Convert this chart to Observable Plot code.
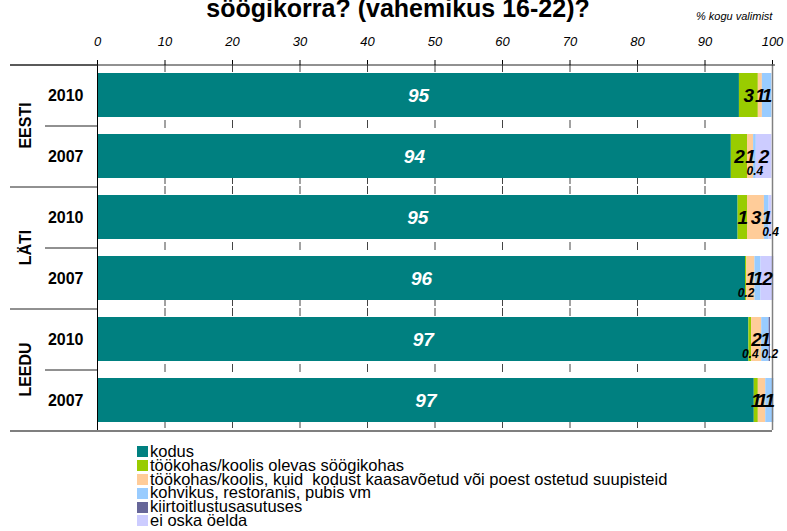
<!DOCTYPE html>
<html>
<head>
<meta charset="utf-8">
<script src="https://cdn.jsdelivr.net/npm/d3@7"></script>
<script src="https://cdn.jsdelivr.net/npm/@observablehq/plot@0.6"></script>
<style>
  html, body { margin: 0; padding: 0; background: #fff; }
  #wrap { position: relative; width: 787px; height: 531px; overflow: hidden; font-family: "Liberation Sans", Arial, sans-serif; }
  #title { position: absolute; left: 0; top: -4px; width: 796px; text-align: center; font-size: 25px; line-height: 25px; font-weight: bold; color: #000; white-space: nowrap; }
  #unit { position: absolute; left: 696px; top: 10px; font-size: 11px; font-style: italic; color: #000; }
  #chart { position: absolute; left: 0; top: 0; }
  #chart svg g[aria-label^="x-axis"] text { font-style: italic; }
  #legend { position: absolute; left: 137px; top: 445px; font-size: 16.5px; color: #000; }
  .item { display: flex; align-items: center; height: 13.8px; line-height: 13.8px; white-space: pre; }
  .sw { width: 11px; height: 11px; margin-right: 2px; flex: none; }
</style>
</head>
<body>
<div id="wrap">
  <div id="chart"></div>
  <div id="title">söögikorra? (vahemikus 16-22)?</div>
  <div id="unit">% kogu valimist</div>
  <div id="legend"></div>
</div>
<script>
// ---- data ----
const countries = ["EESTI", "LÄTI", "LEEDU"];
const years = ["2010", "2007"];
const rowCountry = ["EESTI", "EESTI", "LÄTI", "LÄTI", "LEEDU", "LEEDU"];
const rowYear = ["2010", "2007", "2010", "2007", "2010", "2007"];
const series = [
  "kodus",
  "töökohas/koolis olevas söögikohas",
  "töökohas/koolis, kuid  kodust kaasavõetud või poest ostetud suupisteid",
  "kohvikus, restoranis, pubis vm",
  "kiirtoitlustusasutuses",
  "ei oska öelda"
];
const colors = ["#008080", "#99CC00", "#FFCC99", "#99CCFF", "#666699", "#CCCCFF"];
const kodus          = [95.1, 93.9, 94.9, 96.0, 96.5, 97.3];
const toosoogikohas  = [2.8, 2.4, 1.4, 0.2, 0.4, 0.6];
const kaasavoetud    = [0.6, 0.9, 2.5, 1.2, 1.5, 1.1];
const kohvik         = [1.4, 0.4, 0.7, 0.9, 1.1, 1.2];
const kiirtoit       = [0, 0, 0, 0, 0.2, 0];
const eiOska         = [0, 2.3, 0.4, 1.9, 0, 0];
const xTicks = [0, 10, 20, 30, 40, 50, 60, 70, 80, 90, 100];

// ---- build table ----
const seriesValues = [kodus, toosoogikohas, kaasavoetud, kohvik, kiirtoit, eiOska];
const rows = [];
series.forEach((s, si) => rowCountry.forEach((c, ri) => {
  const v = seriesValues[si][ri];
  if (v > 0) rows.push({country: c, year: rowYear[ri], series: s, value: v});
}));
const fmt = v => v < 0.5 ? v.toFixed(1) : String(Math.round(v));

const step = 61; // px per row band
const font = "Liberation Sans, Arial, sans-serif";
const labelOpts = (textFn, extra) => Plot.stackX({
  fy: "country", y: "year", x: "value", z: "series", order: series,
  text: textFn, fontFamily: font, fontWeight: "bold", fontStyle: "italic", ...extra
});

const chart = Plot.plot({
  width: 787,
  height: 440,
  marginLeft: 97, marginRight: 15, marginTop: 64, marginBottom: 10,
  style: {fontFamily: font, fontSize: "13px", color: "#000", background: "transparent", overflow: "visible"},
  x: {domain: [0, 100], axis: "top", ticks: xTicks, tickSize: 5, tickPadding: 14, label: null},
  y: {domain: years, paddingInner: 0.28, paddingOuter: 0.14, axis: null},
  fy: {domain: countries, padding: 0, axis: null},
  color: {domain: series, range: colors},
  marks: [
    // dashed gridlines behind the bars
    Plot.ruleX(xTicks.slice(1, -1), {stroke: "#444", strokeDasharray: "8,6"}),
    // bars
    Plot.barX(rows, {fy: "country", y: "year", x: "value", fill: "series", order: series}),
    // frame lines
    Plot.ruleX([0], {stroke: "#000"}),
    Plot.ruleX([100], {stroke: "#808080", strokeWidth: 1.5}),
    Plot.ruleY(countries, {fy: d => d, y: () => years[0], dy: -step / 2, x1: 0, x2: 0, insetLeft: -87, stroke: "#222"}),
    Plot.ruleY(countries, {fy: d => d, y: () => years[0], dy: step / 2, x1: 0, x2: 0, insetLeft: -52, stroke: "#222"}),
    Plot.ruleY([countries[0]], {fy: d => d, y: () => years[0], dy: -step / 2, insetLeft: -87, insetRight: -3, stroke: "#222"}),
    Plot.ruleY([countries[2]], {fy: d => d, y: () => years[1], dy: step / 2, insetLeft: -87, stroke: "#555", strokeWidth: 1.5}),
    // category labels
    Plot.text(years, {y: d => d, text: d => d, frameAnchor: "left", dx: -14, textAnchor: "end", fontSize: 16, fontWeight: "bold", fontFamily: font}),
    Plot.text(countries, {fy: d => d, text: d => d, frameAnchor: "left", dx: -72, rotate: -90, textAnchor: "middle", fontSize: 16, fontWeight: "bold", fontFamily: font}),
    // value labels
    Plot.text(rows, labelOpts(d => d.series === series[0] ? fmt(d.value) : null, {fill: "white", fontSize: 19})),
    Plot.text(rows, labelOpts(d => d.series !== series[0] && d.value >= 0.5 ? fmt(d.value) : null, {fill: "black", fontSize: 19})),
    Plot.text(rows, labelOpts(d => d.value < 0.5 ? fmt(d.value) : null, {fill: "black", fontSize: 12, dy: 15}))
  ]
});
document.getElementById("chart").appendChild(chart);

// legend
const legend = document.getElementById("legend");
series.forEach((s, i) => {
  const item = document.createElement("div");
  item.className = "item";
  const sw = document.createElement("span");
  sw.className = "sw";
  sw.style.background = colors[i];
  const t = document.createElement("span");
  t.textContent = s;
  item.appendChild(sw);
  item.appendChild(t);
  legend.appendChild(item);
});
</script>
</body>
</html>
